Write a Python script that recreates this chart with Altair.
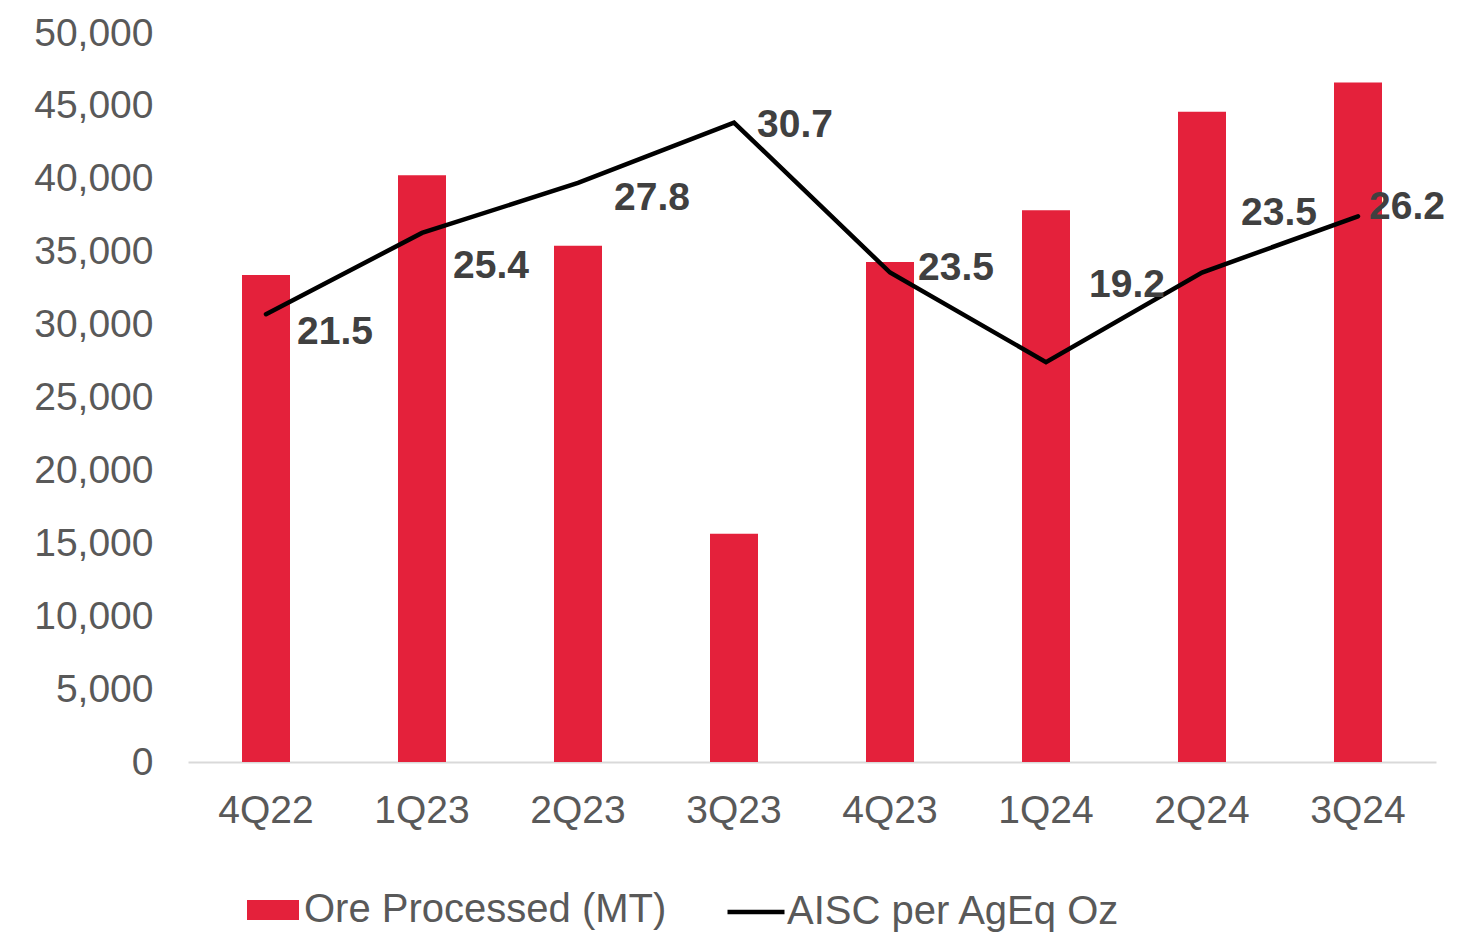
import altair as alt
import pandas as pd

quarters = ["4Q22", "1Q23", "2Q23", "3Q23", "4Q23", "1Q24", "2Q24", "3Q24"]
ore_processed = [33400, 40250, 35400, 15650, 34300, 37850, 44600, 46600]
aisc = [21.5, 25.4, 27.8, 30.7, 23.5, 19.2, 23.5, 26.2]

bar_name = "Ore Processed (MT)"
line_name = "AISC per AgEq Oz"

# label offsets (pixels) for each data label
label_dx = [31, 31, 36, 23, 28, 43, 39, 11]
label_dy = [18, 33, 15, 2, -5, -77, -60, -9]

df = pd.DataFrame({
    "q": quarters,
    "ore": ore_processed,
    "aisc": aisc,
    "bar_series": [bar_name] * len(quarters),
    "line_series": [line_name] * len(quarters),
})

RED = "#E4213B"
FONT = "Liberation Sans"
FS = 39
LFS = 40

x_enc = alt.X(
    "q:N",
    sort=quarters,
    scale=alt.Scale(paddingInner=0.69, paddingOuter=0.345),
    axis=alt.Axis(
        title=None, labelAngle=0, ticks=False, domain=True,
        domainColor="#d9d9d9", domainWidth=2,
        labelFont=FONT, labelFontSize=FS, labelColor="#595959",
        labelPadding=29, grid=False,
    ),
)

bars = alt.Chart(df).mark_bar(size=48).encode(
    x=x_enc,
    y=alt.Y(
        "ore:Q",
        scale=alt.Scale(domain=[0, 50000], nice=False),
        axis=alt.Axis(
            title=None, values=list(range(0, 50001, 5000)), format=",d",
            ticks=False, domain=False, grid=False,
            labelFont=FONT, labelFontSize=FS, labelColor="#595959",
            labelPadding=35,
        ),
    ),
    color=alt.Color(
        "bar_series:N",
        scale=alt.Scale(domain=[bar_name], range=[RED]),
        legend=alt.Legend(
            title=None, orient="none", legendX=65, legendY=857,
            symbolType="M-1.3,-0.5H1.3V0.5H-1.3Z", symbolSize=1600,
            symbolStrokeWidth=0, symbolOpacity=1,
            labelFont=FONT, labelFontSize=LFS, labelColor="#595959",
            labelOffset=11, padding=0, labelLimit=0,
        ),
    ),
)

y2 = alt.Y("aisc:Q", scale=alt.Scale(domain=[0, 35], nice=False), axis=None)

line = alt.Chart(df).mark_line(strokeWidth=4.5, strokeJoin="miter", strokeCap="round").encode(
    x=alt.X("q:N", sort=quarters),
    y=y2,
    stroke=alt.Stroke(
        "line_series:N",
        scale=alt.Scale(domain=[line_name], range=["#000000"]),
        legend=alt.Legend(
            title=None, orient="none", legendX=537, legendY=848,
            symbolType="stroke", symbolSize=3249, symbolStrokeWidth=4.5,
            labelFont=FONT, labelFontSize=LFS, labelColor="#595959",
            labelOffset=0, padding=0, labelLimit=0,
        ),
    ),
)

texts = []
for q, dx, dy in zip(quarters, label_dx, label_dy):
    texts.append(
        alt.Chart(df).transform_filter(alt.datum.q == q).mark_text(
            align="left", baseline="middle", dx=dx, dy=dy,
            font=FONT, fontSize=FS, fontWeight="bold", color="#404040",
        ).encode(
            x=alt.X("q:N", sort=quarters),
            y=y2,
            text=alt.Text("aisc:Q", format=".1f"),
        )
    )

right = alt.layer(line, *texts)

chart = alt.layer(bars, right).resolve_scale(
    y="independent", color="independent"
).properties(
    width=1248, height=729,
    autosize=alt.AutoSizeParams(type="none"),
    padding={"left": 180, "top": 25, "right": 35, "bottom": 170},
).configure_view(stroke=None)

chart.save("out.html", embed_options={"renderer": "svg", "actions": False})
